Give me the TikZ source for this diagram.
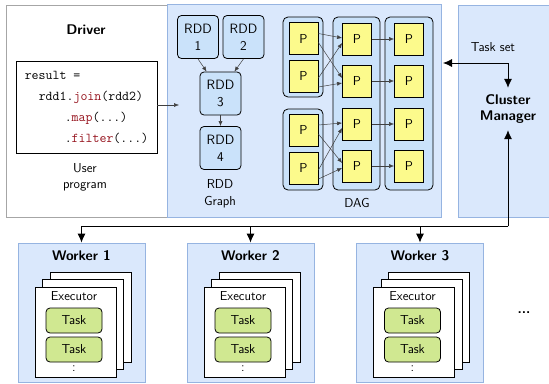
\documentclass[tikz,border=0pt]{standalone}
\usetikzlibrary{arrows.meta}
\definecolor{regionfill}{RGB}{218,232,252}
\definecolor{regionedge}{RGB}{150,180,225}
\definecolor{rddfill}{RGB}{202,226,250}
\definecolor{partfill}{RGB}{252,250,140}
\definecolor{taskfill}{RGB}{208,232,145}
\definecolor{keyword}{RGB}{150,20,30}
\newcommand{\kw}[1]{\textcolor{keyword}{#1}}
\begin{document}
\begin{tikzpicture}[x=1pt,y=-1pt,
  font=\sffamily\fontsize{13}{16}\selectfont,
  region/.style={draw=regionedge,fill=regionfill,line width=0.8pt,inner sep=0pt},
  rdd/.style={draw,line width=0.8pt,rounded corners=4pt,fill=rddfill,minimum width=41,minimum height=43,inner sep=0pt,align=center,font=\sffamily\fontsize{13.5}{17}\selectfont},
  stage/.style={draw,line width=0.8pt,rounded corners=5pt,fill=rddfill,inner sep=0pt},
  part/.style={draw,line width=0.8pt,fill=partfill,minimum width=29,minimum height=32,inner sep=0pt},
  exec/.style={draw,line width=0.8pt,fill=white,minimum width=81,minimum height=90,inner sep=0pt},
  task/.style={draw,line width=0.8pt,rounded corners=4pt,fill=taskfill,minimum width=56,minimum height=25,inner sep=0pt},
  title/.style={font=\sffamily\bfseries\fontsize{14}{16}\selectfont},
  flow/.style={-{Latex[length=5pt,width=4pt]},draw=black!75,line width=0.5pt},
  link/.style={-{Latex[length=9pt,width=8pt]},line width=0.8pt},
  twoway/.style={{Latex[length=9pt,width=8pt]}-{Latex[length=9pt,width=8pt]},line width=0.8pt}]
\useasboundingbox (0,0) rectangle (549,383);

% driver
\node[draw=black!35,line width=0.8pt,minimum width=161,minimum height=212,inner sep=0pt] (driver) at (86.5,111) {};
\node[title] (drivertitle) at (86,30) {Driver};
\node[draw,line width=0.8pt,minimum width=141,minimum height=92,align=left,
  font=\ttfamily\fontsize{13.5}{21}\selectfont] (code) at (86.5,107)
  {result =\\\hspace*{14pt}rdd1.\kw{join}(rdd2)\\\hspace*{40pt}.\kw{map}(...)\\\hspace*{40pt}.\kw{filter}(...)};
\node[align=center] (userlabel) at (85,177) {User\\program};

% rdd graph and dag
\node[region,minimum width=274,minimum height=213] (dagbox) at (304,110.5) {};
\coordinate (gin) at (179,105);
\draw[flow] (code.east |- gin) -- (gin);
\node[rdd] (rdd1) at (198,37) {RDD\\1};
\node[rdd] (rdd2) at (243.5,37) {RDD\\2};
\node[rdd] (rdd3) at (220.5,93.5) {RDD\\3};
\node[rdd] (rdd4) at (220.5,148) {RDD\\4};
\draw[flow] (rdd1.south) -- ([xshift=7]rdd3.north west);
\draw[flow] (rdd2.south) -- ([xshift=-7]rdd3.north east);
\draw[flow] (rdd3) -- (rdd4);
\node[align=center,font=\sffamily\fontsize{13}{17}\selectfont] (rddlabel) at (220,193.5) {RDD\\Graph};

\node[stage,minimum width=40,minimum height=80] (stage1) at (303,57) {};
\node[stage,minimum width=40,minimum height=81] (stage2) at (303,149.5) {};
\node[stage,minimum width=47,minimum height=173] (stage3) at (356.5,103.5) {};
\node[stage,minimum width=48,minimum height=173] (stage4) at (409,103.5) {};
\foreach \y [count=\i] in {38.5,76,130,168}
  \node[part] (l\i) at (303.5,\y) {P};
\foreach \y [count=\i] in {39,81,124,166} {
  \node[part] (m\i) at (357,\y) {P};
  \node[part] (r\i) at (409,\y) {P};
  \draw[flow] (m\i) -- (r\i);
}
\foreach \a/\b/\c/\d in {l1/l2/m1/m2,l3/l4/m3/m4} {
  \draw[flow] ([yshift=5]\a.east) -- ([yshift=1]\c.west);
  \draw[flow] ([yshift=-4]\a.east) -- ([yshift=3]\d.west);
  \draw[flow] ([yshift=-2]\b.east) -- ([yshift=-4]\c.west);
  \draw[flow] ([yshift=-11]\b.east) -- ([yshift=-2]\d.west);
}
\node (daglabel) at (357,203) {DAG};

% cluster manager
\node[region,minimum width=93,minimum height=212] (cmbox) at (504.5,111) {};
\node[title,align=center,minimum height=42] (cm) at (508,109) {Cluster\\Manager};
\node (tasksetlabel) at (493,47) {Task set};
\coordinate (tsend) at (443,63);
\draw[twoway] (tsend) -| (cm.north);

% workers
\foreach \x/\n in {81.5/1,250.5/2,420/3} {
  \node[region,minimum width=127,minimum height=139] (w\n) at (\x,312.5) {};
  \node[title] (w\n title) at (\x,256) {Worker \n};
  \node[exec] (w\n back) at (\x+9,317) {};
  \node[exec] (w\n mid) at (\x+1.5,324.5) {};
  \node[exec] (w\n exec) at (\x-6,332) {};
  \node (w\n label) at (\x-7.5,296) {Executor};
  \node[task] (w\n taska) at (\x-7.5,320.5) {Task};
  \node[task] (w\n taskb) at (\x-7.5,349.5) {Task};
  \node (w\n dots) at (\x-7.5,369) {:};
}
\node[font=\sffamily\bfseries\fontsize{14}{16}\selectfont] (more) at (524,313) {...};

\coordinate (bus) at (508,226);
\draw[link] (bus) -- (cm.south);
\foreach \n in {1,2,3}
  \draw[link] (bus) -| (w\n.north);
\end{tikzpicture}
\end{document}
